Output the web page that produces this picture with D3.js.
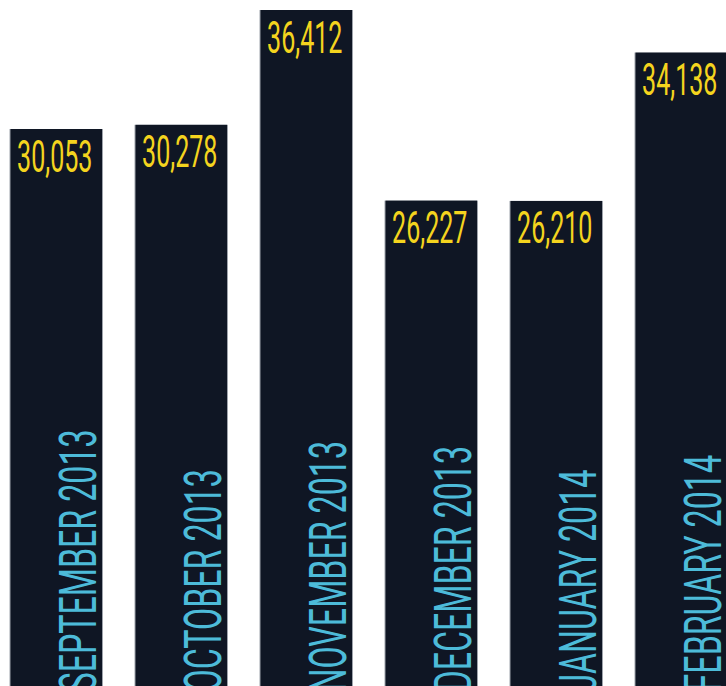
<!DOCTYPE html>
<html>
<head>
<meta charset="utf-8">
<script src="https://cdn.jsdelivr.net/npm/d3@7"></script>
<style>
  html, body { margin: 0; padding: 0; background: #ffffff; }
  svg { display: block; }
</style>
</head>
<body>
<svg id="chart" width="726" height="686"></svg>
<script>
const categories = ["SEPTEMBER 2013", "OCTOBER 2013", "NOVEMBER 2013", "DECEMBER 2013", "JANUARY 2014", "FEBRUARY 2014"];
const values = [30053, 30278, 36412, 26227, 26210, 34138];
const valueLabels = ["30,053", "30,278", "36,412", "26,227", "26,210", "34,138"];

const data = categories.map((c, i) => ({ cat: c, value: values[i], label: valueLabels[i] }));

const svg = d3.select("#chart");

const x = d3.scaleBand()
  .domain(categories)
  .range([10.5, 727])
  .paddingInner(0.268)
  .paddingOuter(0);

const y = d3.scaleLinear()
  .domain([0, 36412])
  .range([691.5, 10]);

const g = svg.append("g");

// soft grey edge behind each bar
g.selectAll("rect.edge")
  .data(data)
  .join("rect")
  .attr("class", "edge")
  .attr("x", d => x(d.cat) - 1)
  .attr("y", d => y(d.value))
  .attr("width", x.bandwidth() + 2)
  .attr("height", d => y(0) - y(d.value))
  .attr("fill", "#9ea3ab");

g.selectAll("rect.bar")
  .data(data)
  .join("rect")
  .attr("class", "bar")
  .attr("x", d => x(d.cat))
  .attr("y", d => y(d.value))
  .attr("width", x.bandwidth())
  .attr("height", d => y(0) - y(d.value))
  .attr("fill", "#0f1624");

// value labels
const vScale = 0.57;
g.selectAll("text.val")
  .data(data)
  .join("text")
  .attr("class", "val")
  .attr("transform", d => `translate(${x(d.cat) + x.bandwidth() / 2 - 1.5},${y(d.value) + 42.5}) scale(${vScale},1)`)
  .attr("text-anchor", "middle")
  .attr("font-family", "Roboto, 'Open Sans', sans-serif")
  .attr("font-size", 44)
  .attr("fill", "#f4d41e")
  .text(d => d.label);

// category labels (rotated)
const cScale = 0.62;
g.selectAll("text.cat")
  .data(data)
  .join("text")
  .attr("class", "cat")
  .attr("transform", d => `translate(${x(d.cat) + 85},${y(0)}) rotate(-90) scale(${cScale},1)`)
  .attr("text-anchor", "start")
  .attr("font-family", "Roboto, 'Open Sans', sans-serif")
  .attr("font-size", 52)
  .attr("fill", "#4dbbd9")
  .text(d => d.cat);
</script>
</body>
</html>
